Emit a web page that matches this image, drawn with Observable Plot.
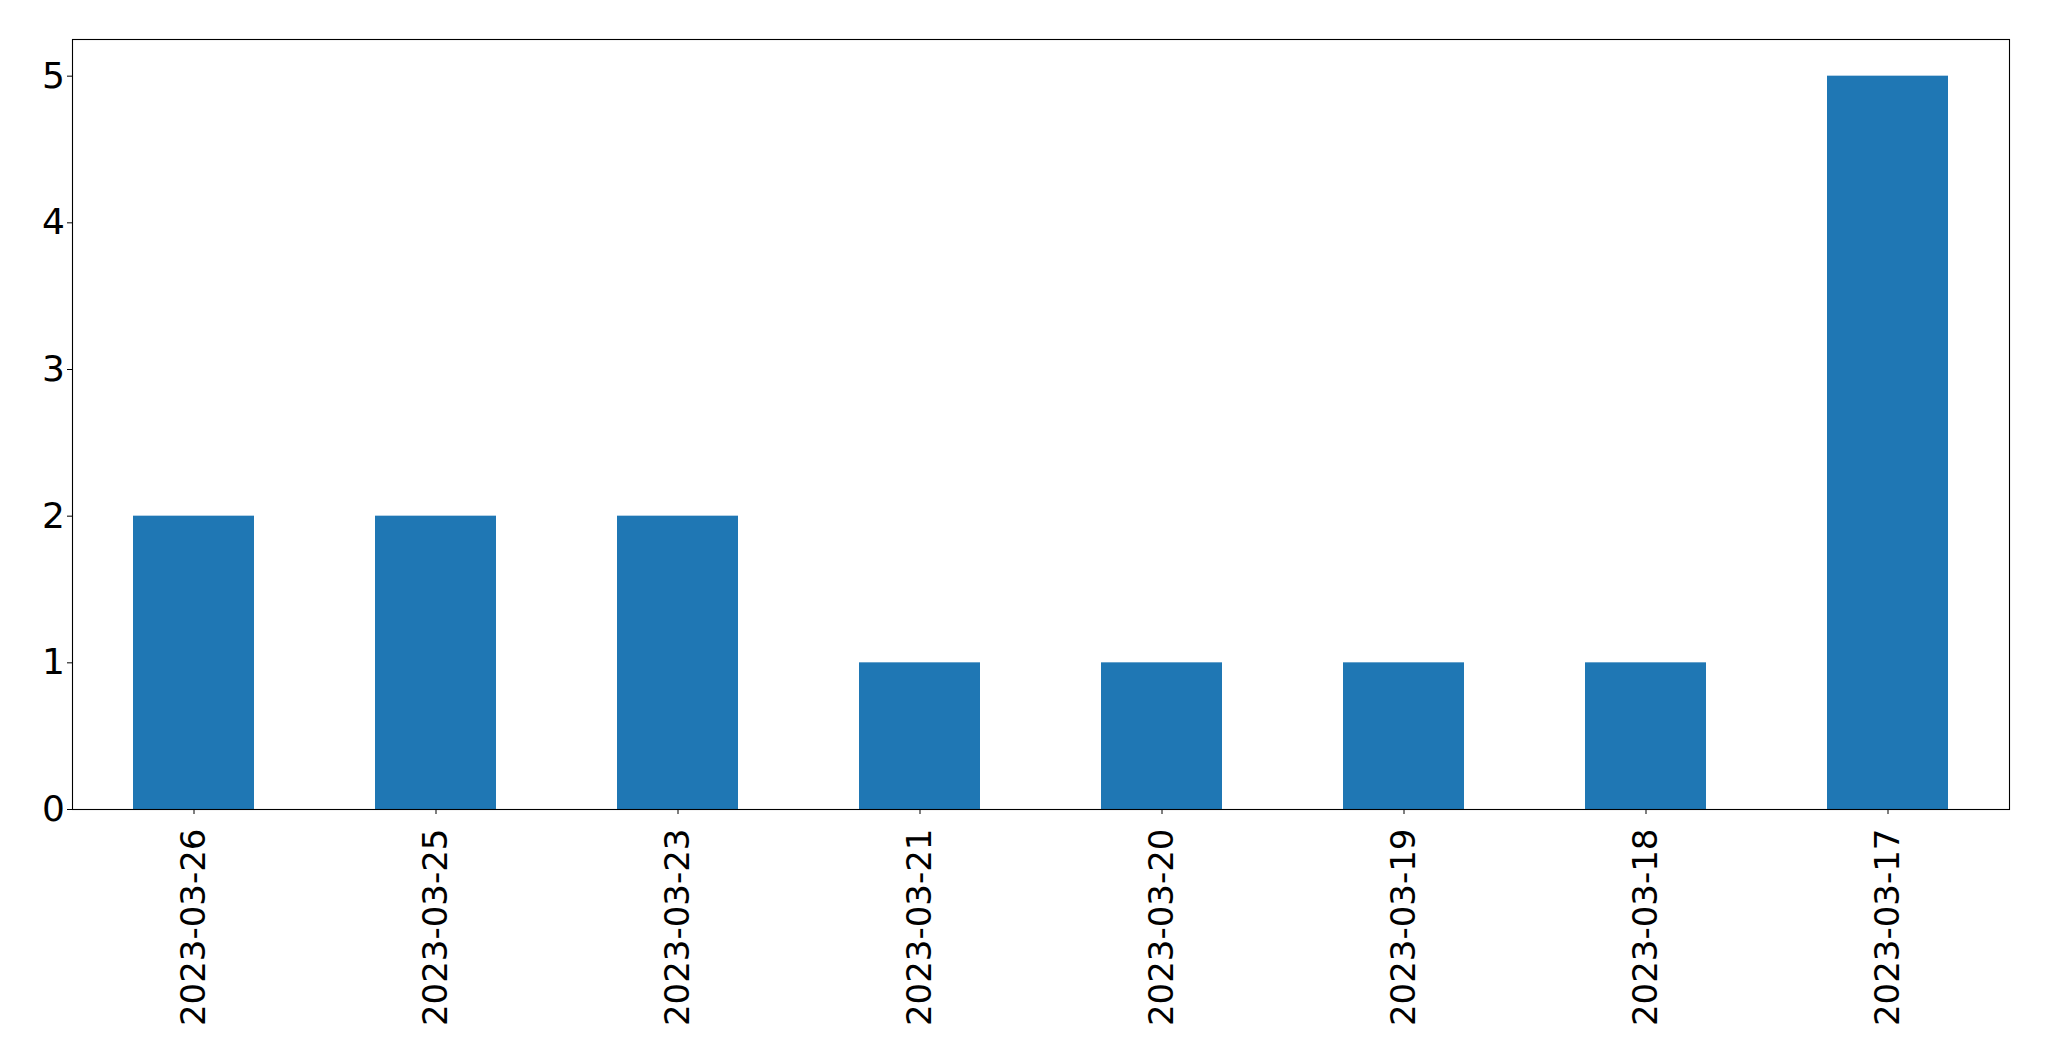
<!DOCTYPE html>
<html>
<head>
<meta charset="utf-8">
<script src="https://cdn.jsdelivr.net/npm/d3@7"></script>
<script src="https://cdn.jsdelivr.net/npm/@observablehq/plot@0.6"></script>
<style>
  html, body { margin: 0; padding: 0; background: #fff; }
  #chart svg { display: block; }
</style>
</head>
<body>
<div id="chart"></div>
<script>
const dates = ["2023-03-26", "2023-03-25", "2023-03-23", "2023-03-21", "2023-03-20", "2023-03-19", "2023-03-18", "2023-03-17"];
const counts = [2, 2, 2, 1, 1, 1, 1, 5];
const yTicks = [0, 1, 2, 3, 4, 5];

const data = dates.map((d, i) => ({date: d, count: counts[i]}));

const chart = Plot.plot({
  width: 2049,
  height: 1061,
  marginLeft: 72,
  marginRight: 40,
  marginTop: 39,
  marginBottom: 252,
  style: {fontFamily: "DejaVu Sans", background: "#fff", color: "#000"},
  x: {domain: dates, paddingInner: 0.5, paddingOuter: 0.25, label: null},
  y: {domain: [0, 5.25], label: null},
  marks: [
    Plot.barY(data, {x: "date", y: "count", fill: "#1f77b4", inset: 0}),
    Plot.axisY({ticks: yTicks, tickSize: 5, tickPadding: 2.5, fontSize: 36, label: null, tickFormat: d => String(d)}),
    Plot.axisX({tickSize: 5, tickPadding: 14, tickRotate: -90, fontSize: 34, label: null}),
    Plot.frame({stroke: "#000", strokeWidth: 1.1})
  ]
});
document.getElementById("chart").appendChild(chart);
</script>
</body>
</html>
